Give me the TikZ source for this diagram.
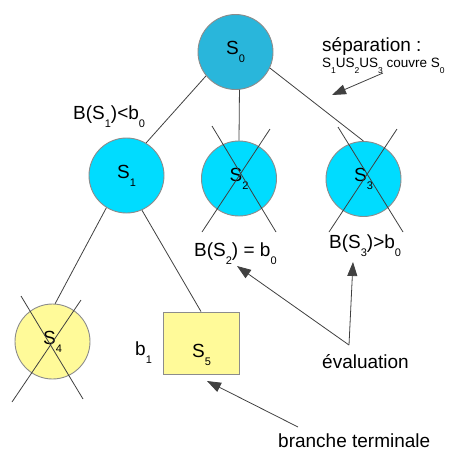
\documentclass[tikz,border=0pt]{standalone}
\usepackage{fontspec}
\setmainfont{Liberation Sans}
\usetikzlibrary{arrows.meta}
\definecolor{cdark}{HTML}{29B6DB}
\definecolor{ccyan}{HTML}{00DCFF}
\definecolor{cyel}{HTML}{FFFA99}
\definecolor{cline}{HTML}{404040}
\definecolor{cedge}{HTML}{8C8C8C}
\newcommand\sbs[1]{\raisebox{-8pt}{\fontsize{11}{11}\selectfont #1}}
\newcommand\sbt[1]{\raisebox{-6.5pt}{\fontsize{8.5}{8.5}\selectfont #1}}
\begin{document}
\begin{tikzpicture}[x=1pt,y=-1pt,
  every node/.style={font=\fontsize{19}{22}\selectfont, inner sep=0pt, text=black},
  state/.style={circle, draw=cedge, line width=0.9pt, minimum size=75pt},
  term/.style={rectangle, draw=cedge, line width=0.9pt, fill=cyel, minimum width=76pt, minimum height=62pt},
  lbl/.style={anchor=base west},
  edge/.style={draw=cline, line width=0.8pt},
  cross/.style={draw=cline, line width=0.8pt},
  arr/.style={draw=cline, line width=0.8pt, -{Triangle[length=14pt,width=10pt]}}]
\useasboundingbox (0,0) rectangle (458,451);
% nodes
\node[state, fill=cdark] (S0) at (235.5,52) {S\sbs{0}};
\node[state, fill=ccyan] (S1) at (126.5,175.5) {S\sbs{1}};
\node[state, fill=ccyan] (S2) at (239,178.5) {S\sbs{2}};
\node[state, fill=ccyan] (S3) at (363.5,179) {S\sbs{3}};
\node[state, fill=cyel] (S4) at (52.5,341.5) {S\sbs{4}};
\node[term] (S5) at (201,343) {};
\node (S5l) at (201.5,355) {S\sbs{5}};
% connectors
\draw[edge] (S0.-141) -- (S1.59);
\draw[edge] (S0.-84.6) -- (S2.north);
\draw[edge] (S0.-25) -- (S3.north);
\draw[edge] (S1.-122) -- (S4.86);
\draw[edge] (S1.-66) -- (S5.north);
% crosses
\draw[cross] (212,126) -- (276,232);
\draw[cross] (270,129) -- (202,232);
\draw[cross] (338,127) -- (403,232);
\draw[cross] (397,129) -- (329,232);
\draw[cross] (21,296) -- (83,399);
\draw[cross] (81,300) -- (12,402);
% labels
\node[lbl] (B1) at (73,119) {B(S\sbs{1})<b\sbs{0}};
\node[lbl] (B2) at (194,256) {B(S\sbs{2}) = b\sbs{0}};
\node[lbl] (B3) at (329,248) {B(S\sbs{3})>b\sbs{0}};
\node[lbl] (b1) at (135,355) {b\sbs{1}};
\node[lbl] (sep) at (322,51) {séparation :};
\node[lbl, font=\fontsize{13.5}{16}\selectfont] (sep2) at (322,67) {S\sbt{1}US\sbt{2}US\sbt{3} couvre S\sbt{0}};
\node[lbl] (eval) at (322,368) {évaluation};
\node[lbl] (bt) at (278,447.5) {branche terminale};
% arrows
\coordinate (sepA) at (383,73);
\coordinate (sepT) at (332,95);
\coordinate (evA) at (349,345);
\coordinate (evT1) at (237,266);
\coordinate (evT2) at (353,262);
\coordinate (btA) at (298,427);
\coordinate (btT) at (207,381);
\draw[arr] (sepA) -- (sepT);
\draw[arr] (evA) -- (evT1);
\draw[arr] (evA) -- (evT2);
\draw[arr] (btA) -- (btT);
\end{tikzpicture}
\end{document}
